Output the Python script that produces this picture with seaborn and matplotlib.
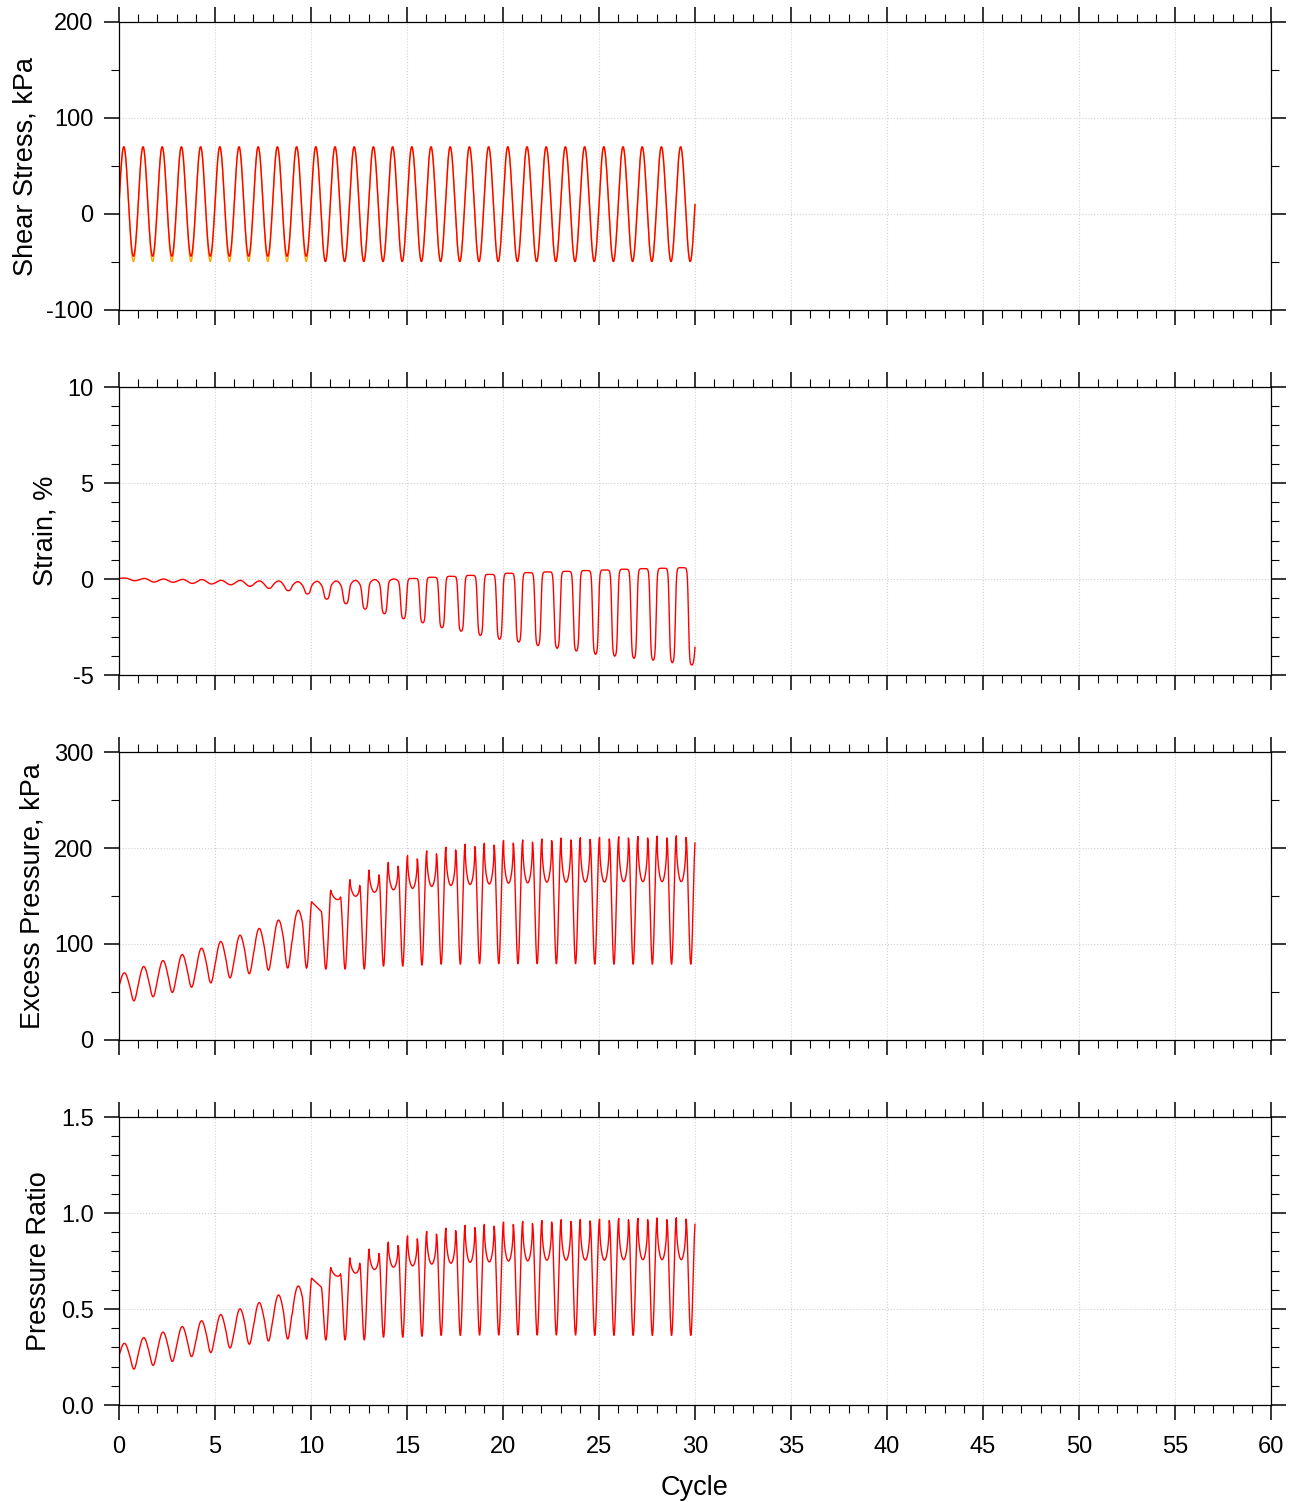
import numpy as np
import pandas as pd
import matplotlib
matplotlib.use("Agg")
import matplotlib.pyplot as plt
import seaborn as sns
from matplotlib.ticker import MultipleLocator, FormatStrFormatter

# ---------------- data (per loading cycle) ----------------
n_cycles = 30
x_max = 60

# Shear stress, kPa
stress_center = 10.0
stress_peak = [70, 70, 70, 70, 70, 70, 70, 70, 70, 70,
               70, 70, 70, 70, 70, 70, 70, 70, 70, 70,
               70, 70, 70, 70, 70, 70, 70, 70, 70, 70]
stress_trough_measured = [-44, -44, -44, -44, -44, -44, -44, -44, -44, -44,
                          -49.5, -49.5, -49.5, -49.5, -49.5, -49.5, -49.5, -49.5, -49.5, -49.5,
                          -49.5, -49.5, -49.5, -49.5, -49.5, -49.5, -49.5, -49.5, -49.5, -49.5]
stress_trough_target = [-49.5] * n_cycles

# Strain, %  (peak near cycle+0.32, trough near cycle+0.82)
strain_start = 0.02
strain_peak = [0.05, 0.03, 0.0, -0.02, -0.03, -0.07, -0.07, -0.10, -0.10, -0.14,
               -0.12, -0.10, -0.07, -0.03, 0.0, 0.03, 0.09, 0.14, 0.19, 0.24,
               0.30, 0.33, 0.37, 0.40, 0.44, 0.47, 0.51, 0.54, 0.56, 0.59]
strain_trough = [-0.09, -0.16, -0.17, -0.23, -0.26, -0.30, -0.38, -0.49, -0.61, -0.78,
                 -1.05, -1.29, -1.57, -1.81, -2.07, -2.28, -2.54, -2.72, -2.94, -3.14,
                 -3.29, -3.47, -3.61, -3.75, -3.92, -4.02, -4.13, -4.23, -4.36, -4.48]
# 0 = sinusoidal cycle, 1 = square pulse (flat top, steep walls, narrow trough)
strain_squareness = [0, 0, 0, 0, 0, 0, 0, 0.1, 0.2, 0.35,
                     0.5, 0.6, 0.7, 0.8, 0.9, 1, 1, 1, 1, 1,
                     1, 1, 1, 1, 1, 1, 1, 1, 1, 1]
strain_end = -3.55

# Excess pore pressure, kPa (values at stress zero-up, stress peak, zero-down, stress trough)
pp_start = 57
pp_zero_up = [58, 60, 65, 70, 75, 81, 86, 92, 98, 104,
              144, 156, 167, 177, 185, 192, 197, 200.8, 204, 205,
              207.7, 208.4, 209.4, 210.4, 210.7, 211, 211.7, 212, 212.4, 212.7]
pp_at_peak = [70, 76.5, 82.7, 89, 95.5, 102.5, 109, 116, 124.6, 134,
              139, 147, 150, 154, 156.5, 158, 160, 161, 162, 162.5,
              163.4, 163.7, 164.4, 164.4, 164.5, 164.5, 165, 165, 165, 165]
pp_zero_down = [58, 63, 69, 75, 82, 88, 95, 101, 110, 124,
                134, 149, 161, 172, 181, 188.7, 194, 198, 201.5, 203,
                205, 206, 207.7, 208.4, 209, 209.4, 210.4, 210.4, 210.5, 211]
pp_at_trough = [40.8, 45, 49.5, 55, 59.5, 64.7, 69, 72.7, 75, 75,
                74, 74, 74, 77, 77, 78, 79, 79, 79.5, 79.5,
                79.5, 79.5, 79.5, 79.5, 79, 79, 79, 79, 79, 79]
pp_shape_pos = [1, 1, 1, 1, 1, 1, 1, 1, 0.95, 0.9,
                0.7, 0.6, 0.5, 0.45, 0.45, 0.45, 0.45, 0.45, 0.45, 0.45,
                0.45, 0.45, 0.45, 0.45, 0.45, 0.45, 0.45, 0.45, 0.45, 0.45]
pp_shape_neg = [1.3, 1.3, 1.3, 1.3, 1.3, 1.3, 1.3, 1.4, 1.5, 1.6,
                1.7, 1.8, 1.9, 2, 2, 2, 2, 2, 2, 2,
                2, 2, 2, 2, 2, 2, 2, 2, 2, 2]
pp_final = 210
sigma_v_eff = 218.0   # initial effective vertical stress, kPa

# ---------------- waveforms built from the per-cycle values ----------------
x = np.linspace(0, n_cycles, n_cycles * 200 + 1)


def stress_wave(xv, peaks, troughs):
    k = np.clip(np.floor(xv).astype(int), 0, n_cycles - 1)
    s = np.sin(2 * np.pi * (xv - np.floor(xv)))
    pk = np.asarray(peaks, float)[k]
    tr = np.asarray(troughs, float)[k]
    return np.where(s >= 0, stress_center + (pk - stress_center) * s,
                    stress_center + (stress_center - tr) * s)


def _step(phi, c, tau):
    lo, hi = np.tanh(-c / tau), np.tanh((1 - c) / tau)
    return (np.tanh((phi - c) / tau) - lo) / (hi - lo)


def strain_wave(xv):
    P = np.asarray(strain_peak, float)
    T = np.asarray(strain_trough, float)
    S = np.asarray(strain_squareness, float)
    out = np.empty_like(xv)
    t_last = n_cycles - 1 + 0.82
    c_fall, tau = 0.68, 0.11
    for i, xi in enumerate(xv):
        k = int(np.floor(xi - 0.32))
        if 0 <= k < n_cycles and xi <= k + 0.82:
            phi = (xi - (k + 0.32)) / 0.5
            w = (1 - S[k]) * (1 - np.cos(np.pi * phi)) / 2 + S[k] * _step(phi, c_fall, tau)
            out[i] = P[k] + (T[k] - P[k]) * w
        elif xi > t_last:
            phi = (xi - t_last) / (n_cycles - t_last)
            out[i] = T[-1] + (strain_end - T[-1]) * phi ** 3
        else:
            kk = k + 1  # rising half towards peak kk
            Tprev = T[kk - 1] if kk >= 1 else strain_start
            if kk == 0:
                phi = 0.5 + 0.5 * xi / 0.32
            else:
                phi = (xi - (kk - 0.18)) / 0.5
            sq = S[kk]
            w = (1 - sq) * (1 - np.cos(np.pi * phi)) / 2 + sq * _step(phi, 1 - c_fall, tau)
            out[i] = Tprev + (P[kk] - Tprev) * w
    return out


def pressure_wave(xv):
    A = np.asarray(pp_zero_up, float)
    B = np.asarray(pp_at_peak, float)
    C = np.asarray(pp_zero_down, float)
    D = np.asarray(pp_at_trough, float)
    mp = np.asarray(pp_shape_pos, float)
    mn = np.asarray(pp_shape_neg, float)
    An_all = np.append(A[1:], pp_final)
    out = np.empty_like(xv)
    for i, xi in enumerate(xv):
        xs = xi - 0.03
        if xs < 0:
            out[i] = pp_start + (A[0] - pp_start) * (xi / 0.03)
            continue
        k = min(int(np.floor(xs)), n_cycles - 1)
        th = xs - k
        s = np.sin(2 * np.pi * th)
        if th < 0.5:
            out[i] = A[k] + (C[k] - A[k]) * 2 * th + (B[k] - (A[k] + C[k]) / 2) * max(s, 0) ** mp[k]
        else:
            An = An_all[k]
            out[i] = C[k] + (An - C[k]) * (2 * th - 1) + (D[k] - (C[k] + An) / 2) * abs(s) ** mn[k]
    return out


df = pd.DataFrame({
    "Cycle": x,
    "stress_target": stress_wave(x, stress_peak, stress_trough_target),
    "stress_measured": stress_wave(x, stress_peak, stress_trough_measured),
    "strain": strain_wave(x),
    "pressure": pressure_wave(x),
})
df["ratio"] = df["pressure"] / sigma_v_eff

# ---------------- figure ----------------
sns.set_theme(style="white")
plt.rcParams["font.family"] = ["Liberation Sans", "DejaVu Sans"]
plt.rcParams["axes.unicode_minus"] = False
plt.rcParams["text.color"] = "black"
plt.rcParams["axes.labelcolor"] = "black"

fig = plt.figure(figsize=(12.92, 15.02), dpi=100)
left, width = 119 / 1292, 1152 / 1292
panel_tops = [22, 387, 752, 1117]
panel_h = 288
axes = [fig.add_axes([left, 1 - (t + panel_h) / 1502, width, panel_h / 1502]) for t in panel_tops]

specs = [
    ("Shear Stress, kPa", (-100, 200), 100, 50, "%d"),
    ("Strain, %", (-5, 10), 5, 1, "%d"),
    ("Excess Pressure, kPa", (0, 300), 100, 50, "%d"),
    ("Pressure Ratio", (0, 1.5), 0.5, 0.1, "%.1f"),
]

sns.lineplot(data=df, x="Cycle", y="stress_target", ax=axes[0], color="#FFA500",
             linewidth=1.0, estimator=None, sort=False)
sns.lineplot(data=df, x="Cycle", y="stress_measured", ax=axes[0], color="#FF0000",
             linewidth=1.0, estimator=None, sort=False)
sns.lineplot(data=df, x="Cycle", y="strain", ax=axes[1], color="#FF0000",
             linewidth=1.0, estimator=None, sort=False)
sns.lineplot(data=df, x="Cycle", y="pressure", ax=axes[2], color="#FF0000",
             linewidth=1.0, estimator=None, sort=False)
sns.lineplot(data=df, x="Cycle", y="ratio", ax=axes[3], color="#FF0000",
             linewidth=1.0, estimator=None, sort=False)

for i, (ax, (lab, ylim, ymaj, ymin, fmt)) in enumerate(zip(axes, specs)):
    ax.set_xlim(0, x_max)
    ax.set_ylim(*ylim)
    ax.xaxis.set_major_locator(MultipleLocator(5))
    ax.xaxis.set_minor_locator(MultipleLocator(1))
    ax.yaxis.set_major_locator(MultipleLocator(ymaj))
    ax.yaxis.set_minor_locator(MultipleLocator(ymin))
    ax.yaxis.set_major_formatter(FormatStrFormatter(fmt))
    ax.tick_params(which="both", direction="out", top=True, bottom=True,
                   left=True, right=True, colors="black", labelsize=17)
    ax.tick_params(axis="y", pad=7.5)
    ax.tick_params(axis="x", pad=11.5)
    ax.tick_params(which="major", length=10.8, width=1.1)
    ax.tick_params(which="minor", length=5.8, width=0.8)
    ax.tick_params(axis="x", labelbottom=(i == 3), labeltop=False)
    ax.tick_params(axis="y", labelright=False)
    ax.grid(which="major", color="#d2d2d2", linestyle=":", linewidth=0.8)
    ax.set_axisbelow(True)
    for sp in ax.spines.values():
        sp.set_visible(True)
        sp.set_color("black")
        sp.set_linewidth(0.9)
    ax.set_ylabel(lab, fontsize=19.5, labelpad=6)
    ax.set_xlabel("Cycle" if i == 3 else "", fontsize=19.5, labelpad=12)

fig.savefig("out.png", dpi=100)
